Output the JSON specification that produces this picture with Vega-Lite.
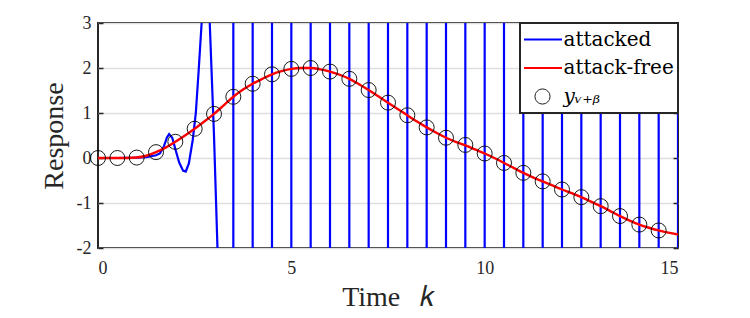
{
  "$schema": "https://vega.github.io/schema/vega-lite/v6.json",
  "width": 580,
  "height": 225,
  "autosize": "none",
  "padding": {"left": 98, "top": 23, "right": 72, "bottom": 70},
  "background": "white",
  "config": {
    "font": "Liberation Serif",
    "view": {"stroke": "#262626", "strokeWidth": 2},
    "axis": {"labelFont": "Liberation Serif", "titleFont": "Liberation Serif", "labelColor": "#262626", "titleColor": "#262626", "domain": false, "titleFontWeight": "normal"},
    "legend": {"labelFont": "DejaVu Serif"}
  },
  "datasets": {
    "red": [
      {"k":0,"v":0},{"k":0.25,"v":0},{"k":0.5,"v":0},{"k":0.75,"v":0},{"k":1,"v":0.01},{"k":1.25,"v":0.05},{"k":1.5,"v":0.13},{"k":1.75,"v":0.23},{"k":2,"v":0.36},{"k":2.25,"v":0.5},{"k":2.5,"v":0.65},{"k":2.75,"v":0.81},{"k":3,"v":0.98},{"k":3.25,"v":1.17},{"k":3.5,"v":1.36},{"k":3.75,"v":1.52},{"k":4,"v":1.65},{"k":4.25,"v":1.76},{"k":4.5,"v":1.86},{"k":4.75,"v":1.93},{"k":5,"v":1.98},{"k":5.25,"v":2.0},{"k":5.5,"v":2.0},{"k":5.75,"v":1.97},{"k":6,"v":1.92},{"k":6.25,"v":1.85},{"k":6.5,"v":1.76},{"k":6.75,"v":1.64},{"k":7,"v":1.51},{"k":7.25,"v":1.37},{"k":7.5,"v":1.23},{"k":7.75,"v":1.09},{"k":8,"v":0.95},{"k":8.25,"v":0.81},{"k":8.5,"v":0.68},{"k":8.75,"v":0.56},{"k":9,"v":0.45},{"k":9.25,"v":0.36},{"k":9.5,"v":0.28},{"k":9.75,"v":0.19},{"k":10,"v":0.1},{"k":10.25,"v":0.0},{"k":10.5,"v":-0.11},{"k":10.75,"v":-0.22},{"k":11,"v":-0.33},{"k":11.25,"v":-0.43},{"k":11.5,"v":-0.52},{"k":11.75,"v":-0.61},{"k":12,"v":-0.7},{"k":12.25,"v":-0.78},{"k":12.5,"v":-0.87},{"k":12.75,"v":-0.97},{"k":13,"v":-1.07},{"k":13.25,"v":-1.18},{"k":13.5,"v":-1.29},{"k":13.75,"v":-1.39},{"k":14,"v":-1.48},{"k":14.25,"v":-1.55},{"k":14.5,"v":-1.61},{"k":14.75,"v":-1.66},{"k":15,"v":-1.7}
    ],
    "circ": [
      {"k":0,"v":0},{"k":0.5,"v":0},{"k":1,"v":0.01},{"k":1.5,"v":0.13},{"k":2,"v":0.36},{"k":2.5,"v":0.65},{"k":3,"v":0.98},{"k":3.5,"v":1.36},{"k":4,"v":1.65},{"k":4.5,"v":1.86},{"k":5,"v":1.98},{"k":5.5,"v":2.0},{"k":6,"v":1.92},{"k":6.5,"v":1.76},{"k":7,"v":1.51},{"k":7.5,"v":1.23},{"k":8,"v":0.95},{"k":8.5,"v":0.68},{"k":9,"v":0.45},{"k":9.5,"v":0.29},{"k":10,"v":0.1},{"k":10.5,"v":-0.11},{"k":11,"v":-0.33},{"k":11.5,"v":-0.52},{"k":12,"v":-0.7},{"k":12.5,"v":-0.87},{"k":13,"v":-1.07},{"k":13.5,"v":-1.29},{"k":14,"v":-1.48},{"k":14.5,"v":-1.61}
    ],
    "blue": [
      {"i":0,"k":0,"v":0},{"i":1,"k":0.5,"v":0},{"i":2,"k":1,"v":0.01},{"i":3,"k":1.25,"v":0.02},{"i":4,"k":1.5,"v":0.06},{"i":5,"k":1.6,"v":0.1},{"i":6,"k":1.7,"v":0.25},{"i":7,"k":1.78,"v":0.45},{"i":8,"k":1.84,"v":0.53},{"i":9,"k":1.92,"v":0.45},{"i":10,"k":2.0,"v":0.2},{"i":11,"k":2.1,"v":-0.1},{"i":12,"k":2.2,"v":-0.28},{"i":13,"k":2.27,"v":-0.3},{"i":14,"k":2.35,"v":-0.12},{"i":15,"k":2.45,"v":0.4},{"i":16,"k":2.53,"v":1.0},{"i":17,"k":2.6,"v":1.9},{"i":18,"k":2.68,"v":3.0},{"i":19,"k":2.75,"v":3.8},{"i":20,"k":2.8,"v":4.0},{"i":21,"k":2.85,"v":3.7},{"i":22,"k":2.89,"v":3.0},{"i":23,"k":3.0,"v":0.5},{"i":24,"k":3.09,"v":-2.0},{"i":25,"k":3.2,"v":-5},
      {"i":26,"k":3.5,"v":-100},{"i":27,"k":3.5,"v":100},
      {"i":28,"k":4.0,"v":100},{"i":29,"k":4.0,"v":-100},
      {"i":30,"k":4.5,"v":-100},{"i":31,"k":4.5,"v":100},
      {"i":32,"k":5.0,"v":100},{"i":33,"k":5.0,"v":-100},
      {"i":34,"k":5.5,"v":-100},{"i":35,"k":5.5,"v":100},
      {"i":36,"k":6.0,"v":100},{"i":37,"k":6.0,"v":-100},
      {"i":38,"k":6.5,"v":-100},{"i":39,"k":6.5,"v":100},
      {"i":40,"k":7.0,"v":100},{"i":41,"k":7.0,"v":-100},
      {"i":42,"k":7.5,"v":-100},{"i":43,"k":7.5,"v":100},
      {"i":44,"k":8.0,"v":100},{"i":45,"k":8.0,"v":-100},
      {"i":46,"k":8.5,"v":-100},{"i":47,"k":8.5,"v":100},
      {"i":48,"k":9.0,"v":100},{"i":49,"k":9.0,"v":-100},
      {"i":50,"k":9.5,"v":-100},{"i":51,"k":9.5,"v":100},
      {"i":52,"k":10.0,"v":100},{"i":53,"k":10.0,"v":-100},
      {"i":54,"k":10.5,"v":-100},{"i":55,"k":10.5,"v":100},
      {"i":56,"k":11.0,"v":100},{"i":57,"k":11.0,"v":-100},
      {"i":58,"k":11.5,"v":-100},{"i":59,"k":11.5,"v":100},
      {"i":60,"k":12.0,"v":100},{"i":61,"k":12.0,"v":-100},
      {"i":62,"k":12.5,"v":-100},{"i":63,"k":12.5,"v":100},
      {"i":64,"k":13.0,"v":100},{"i":65,"k":13.0,"v":-100},
      {"i":66,"k":13.5,"v":-100},{"i":67,"k":13.5,"v":100},
      {"i":68,"k":14.0,"v":100},{"i":69,"k":14.0,"v":-100},
      {"i":70,"k":14.5,"v":-100},{"i":71,"k":14.5,"v":100},
      {"i":72,"k":15.0,"v":100},{"i":73,"k":15.0,"v":-100}
    ]
  },
  "layer": [
    {
      "data": {"name": "blue"},
      "mark": {"type": "line", "clip": true, "strokeWidth": 2.2},
      "encoding": {
        "x": {"field": "k", "type": "quantitative", "scale": {"domain": [0, 15], "nice": false, "zero": false},
              "axis": {"values": [0, 5, 10, 15], "ticks": false, "grid": false, "labelFont": "Liberation Serif", "labelFontSize": 18, "labelPadding": 11, "labelExpr": "'' + datum.value", "title": "Time\u2002\u2009𝑘", "titleFont": "Liberation Serif", "titleFontSize": 28, "titlePadding": 6}},
        "y": {"field": "v", "type": "quantitative", "scale": {"domain": [-2, 3], "nice": false, "zero": false},
              "axis": {"values": [-2, -1, 0, 1, 2, 3], "tickSize": -5, "tickColor": "#262626", "tickWidth": 1.5, "labelFont": "Liberation Serif", "labelFontSize": 18, "labelPadding": 12, "labelExpr": "'' + datum.value", "grid": true, "gridColor": "#dedede", "gridWidth": 1.6, "title": "Response", "titleFont": "Liberation Serif", "titleFontSize": 28, "titlePadding": 8}},
        "order": {"field": "i", "type": "quantitative"},
        "color": {"datum": "attacked", "type": "nominal",
                  "scale": {"domain": ["attacked", "attack-free", "yᵥ₊ᵦ"], "range": ["#0000ff", "#ff0000", "#000000"]},
                  "legend": {"title": null, "orient": "top-right", "offset": 0, "padding": 4, "fillColor": "white", "strokeColor": "#262626",
                             "labelFont": "DejaVu Serif", "labelFontSize": 20, "labelColor": "#000000", "labelOffset": 11, "symbolOffset": 8.5, "rowPadding": 3.5, "clipHeight": 25,
                             "symbolSize": 1521, "symbolType": "stroke", "symbolStrokeWidth": 2,
                             "encode": {
                               "legend": {"update": {"strokeWidth": {"value": 2}}},
                               "labels": {"update": {"font": {"value": "DejaVu Serif"}, "fontStyle": {"signal": "datum.value === 'yᵥ₊ᵦ' ? 'italic' : 'normal'"}}},
                               "symbols": {"update": {
                                 "size": {"value": 1521},
                                 "shape": {"signal": "datum.value === 'yᵥ₊ᵦ' ? 'M-0.385,0A0.385,0.385,0,1,0,0.385,0A0.385,0.385,0,1,0,-0.385,0Z' : 'stroke'"},
                                 "strokeWidth": {"signal": "datum.value === 'yᵥ₊ᵦ' ? 0.9 : 2.2"},
                                 "fill": {"value": "transparent"}
                               }}
                             }}}
      }
    },
    {
      "data": {"name": "red"},
      "mark": {"type": "line", "strokeWidth": 2.4, "interpolate": "monotone"},
      "encoding": {
        "x": {"field": "k", "type": "quantitative"},
        "y": {"field": "v", "type": "quantitative",
              "axis": {"orient": "right", "values": [-2, -1, 0, 1, 2, 3], "labels": false, "title": null, "grid": false, "tickSize": -5, "tickColor": "#262626", "tickWidth": 1.5}},
        "color": {"datum": "attack-free", "type": "nominal"}
      }
    },
    {
      "data": {"name": "circ"},
      "mark": {"type": "point", "shape": "circle", "filled": false, "size": 225, "strokeWidth": 0.9, "opacity": 1},
      "encoding": {
        "x": {"field": "k", "type": "quantitative"},
        "y": {"field": "v", "type": "quantitative", "axis": null},
        "color": {"datum": "yᵥ₊ᵦ", "type": "nominal"}
      }
    }
  ],
  "resolve": {"axis": {"y": "independent"}}
}
